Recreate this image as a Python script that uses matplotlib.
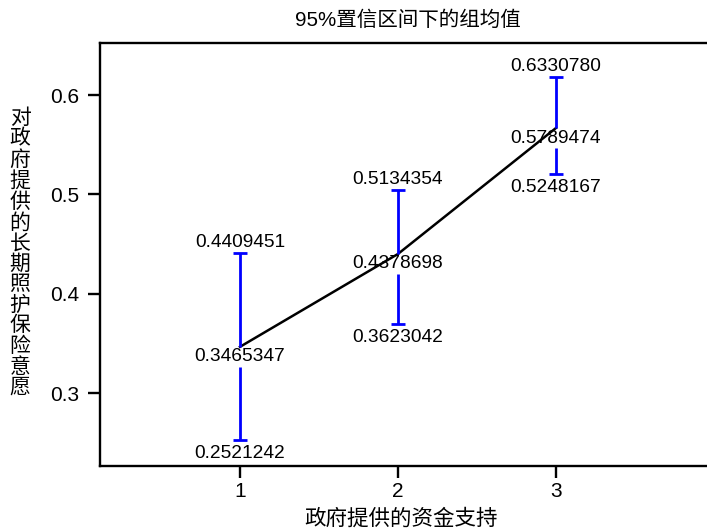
import matplotlib
matplotlib.use("Agg")
import matplotlib.pyplot as plt

plt.rcParams['font.family'] = ['Liberation Sans', 'Noto Sans CJK SC', 'DejaVu Sans']

groups = [1, 2, 3]
means = [0.3465, 0.4400, 0.5668]
upper = [0.4409, 0.5043, 0.6181]
lower = [0.2526, 0.3694, 0.5204]
mean_labels = ['0.3465347', '0.4378698', '0.5789474']
upper_labels = ['0.4409451', '0.5134354', '0.6330780']
lower_labels = ['0.2521242', '0.3623042', '0.5248167']
gap = 0.02

fig = plt.figure(figsize=(7.07, 5.31), dpi=100)
W, H = 707, 531
ax = fig.add_axes([100 / W, 1 - 466 / H, 616 / W, 423 / H])

ax.plot(groups, means, color='black', lw=1.8, zorder=2)

for x, m, u, l in zip(groups, means, upper, lower):
    ax.vlines(x, m, u, color='blue', lw=2, zorder=3)
    ax.vlines(x, l, m - gap, color='blue', lw=2, zorder=3)
    ax.hlines([u, l], x - 0.045, x + 0.045, color='blue', lw=2, zorder=3)

for x, m, u, l, ml, ul, ll in zip(groups, means, upper, lower,
                                  mean_labels, upper_labels, lower_labels):
    ax.annotate(ul, (x, u), xytext=(0, 11), textcoords='offset pixels',
                ha='center', va='center', fontsize=13.8, zorder=4)
    ax.annotate(ll, (x, l), xytext=(0, -13), textcoords='offset pixels',
                ha='center', va='center', fontsize=13.8, zorder=4)
    ax.annotate(ml, (x, m), xytext=(0, -10), textcoords='offset pixels',
                ha='center', va='center', fontsize=13.8, zorder=4)

ax.set_xlim(0.114, 4.013)
ax.set_ylim(0.2265, 0.6524)
ax.set_xticks(groups)
ax.set_yticks([0.3, 0.4, 0.5, 0.6])
ax.set_yticklabels(['0.3', '0.4', '0.5', '0.6'])
ax.tick_params(axis='both', direction='out', length=8.6, width=1.7,
               labelsize=15)
ax.tick_params(axis='y', pad=6)
ax.tick_params(axis='x', pad=3)
for s in ax.spines.values():
    s.set_linewidth(1.7)

fig.text(408 / W, 1 - 20 / H, '95%置信区间下的组均值', ha='center', va='center',
         fontsize=14.8)
fig.text(401 / W, 1 - 519 / H, '政府提供的资金支持', ha='center', va='center',
         fontsize=15.5)
ylab = '对政府提供的长期照护保险意愿'
fig.text(20 / W, 1 - 253 / H, '\n'.join(ylab), ha='center', va='center',
         fontsize=15, linespacing=1.08)

fig.savefig('out.png', dpi=100)
